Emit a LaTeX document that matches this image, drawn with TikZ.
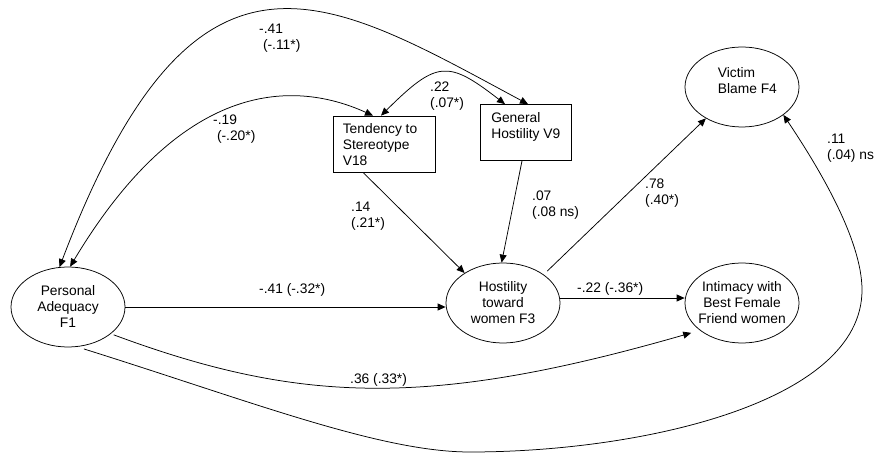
\documentclass[tikz,border=0pt]{standalone}
\usepackage{fontspec}
\setmainfont{Liberation Sans}
\usetikzlibrary{arrows.meta,shapes.geometric}
\begin{document}
\begin{tikzpicture}[x=1pt,y=1pt,
  every node/.style={font=\fontsize{13.8}{16}\selectfont},
  latent/.style={ellipse,draw,line width=0.75pt,minimum width=114pt,minimum height=80pt,inner sep=0pt},
  obs/.style={rectangle,draw,line width=0.75pt,inner sep=0pt},
  txt/.style={inner sep=0pt,align=left},
  ctxt/.style={inner sep=0pt,align=center},
  path/.style={line width=0.75pt,-{Triangle[length=8pt,width=7pt]}},
  corr/.style={line width=0.75pt,{Triangle[length=8pt,width=7pt]}-{Triangle[length=8pt,width=7pt]}},
  coef/.style={inner sep=0pt,align=left,anchor=west}]
\useasboundingbox (0,0) rectangle (876,453);

% nodes
\node[latent,label={[ctxt]center:Personal\\Adequacy\\F1}] (f1) at (68,146) {};
\node[latent,label={[ctxt]center:Hostility\\toward\\women F3}] (f3) at (503,150) {};
\node[latent,label={[ctxt]center:Intimacy with\\Best Female\\Friend women}] (int) at (742,150) {};
\node[latent,label={[txt,anchor=west,xshift=33pt,yshift=6.5pt]west:Victim\\Blame F4}] (vb) at (742,366) {};
\node[obs,minimum width=102pt,minimum height=56pt,label={[txt,anchor=west,xshift=10pt,yshift=-1pt]west:Tendency to\\Stereotype\\V18}] (tend) at (384,309) {};
\node[obs,minimum width=91pt,minimum height=56pt,label={[txt,anchor=west,xshift=11pt,yshift=6pt]west:General\\Hostility V9}] (gh) at (526,320.5) {};

% coefficients
\node[coef] (l1) at (259,414.5) {-.41\\~(-.11*)};
\node[coef] (l2) at (213,324) {-.19\\~(-.20*)};
\node[coef] (l3) at (430,356.5) {.22\\(.07*)};
\node[coef] (l4) at (351,237) {.14\\(.21*)};
\node[coef] (l5) at (532,247.5) {.07\\(.08 ns)};
\node[coef] (l6) at (645,259.5) {.78\\(.40*)};
\node[coef] (l7) at (827,304.5) {.11\\(.04) ns};
\node[coef] (l8) at (259,163.5) {-.41 (-.32*)};
\node[coef] (l9) at (577,164.5) {-.22 (-.36*)};
\node[coef] (l10) at (350,73.5) {.36 (.33*)};

% paths
\draw[path] (f1.east) -- (f1.east -| f3.west);
\draw[path] (f3.5) -- (f3.5 -| int.west);
\draw[path,shorten <=5pt] (f3.35) -- (vb.221);
\draw[path] ([xshift=-4pt]gh.south) -- (f3.92);
\draw[path] ([xshift=-21pt]tend.south) -- (f3.142);
\draw[path,shorten <=3pt,shorten >=9pt] (f1.-32) .. controls (300,49) and (430,45) .. (int.213);
\draw[path,shorten <=7pt] (f1.-77) .. controls (250,52) and (380,1) .. (470,1)
  .. controls (640,1) and (862,50) .. (862,163)
  .. controls (862,213) and (819,285) .. (vb.-34);

% correlations
\draw[corr] (f1.102) .. controls (195,542) and (325,458) .. ([xshift=2pt]gh.north);
\draw[corr] (f1.87) .. controls (180,370) and (290,375) .. ([xshift=-11pt]tend.north);
\draw[corr] ([xshift=-3pt]tend.north) .. controls (437,393) and (448,393) .. ([xshift=-21pt]gh.north);
\end{tikzpicture}
\end{document}
